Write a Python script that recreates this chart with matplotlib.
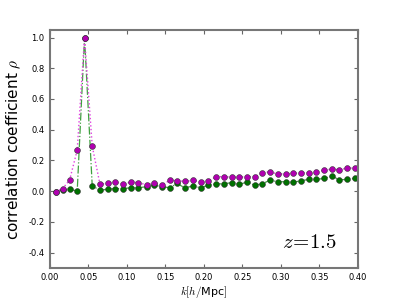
import numpy as np
import matplotlib
matplotlib.use("Agg")
import matplotlib.pyplot as plt

plt.rcParams['mathtext.fontset'] = 'cm'

# wavenumbers k [h/Mpc]
k = [0.0074, 0.0165, 0.0256, 0.0355, 0.045, 0.055, 0.065, 0.075, 0.085, 0.095,
     0.105, 0.115, 0.1256, 0.1355, 0.1455, 0.156, 0.165, 0.175, 0.186, 0.196,
     0.2056, 0.2156, 0.226, 0.236, 0.246, 0.256, 0.266, 0.276, 0.286, 0.296,
     0.306, 0.316, 0.326, 0.336, 0.346, 0.356, 0.366, 0.376, 0.386, 0.396]

# correlation coefficient, two series
rho_m = [-0.004, 0.016, 0.072, 0.267, 1.0, 0.293, 0.046, 0.05, 0.061, 0.044,
         0.059, 0.055, 0.042, 0.055, 0.042, 0.07, 0.068, 0.063, 0.07, 0.061,
         0.063, 0.094, 0.094, 0.091, 0.091, 0.094, 0.094, 0.12, 0.126, 0.111,
         0.113, 0.115, 0.12, 0.12, 0.122, 0.137, 0.143, 0.139, 0.15, 0.15]
rho_g = [-0.003, 0.008, 0.013, 0.0, 1.0, 0.035, 0.005, 0.013, 0.016, 0.016,
         0.022, 0.022, 0.029, 0.039, 0.029, 0.022, 0.05, 0.022, 0.033, 0.022,
         0.039, 0.046, 0.048, 0.055, 0.044, 0.059, 0.039, 0.048, 0.072, 0.061,
         0.061, 0.057, 0.068, 0.076, 0.076, 0.083, 0.098, 0.074, 0.076, 0.083]

fig = plt.figure(figsize=(3.99, 2.99), dpi=100)
ax = fig.add_axes([0.125, 0.104, 0.772, 0.796])

ax.plot(k, rho_g, '-.', color='#3fa03f', lw=0.9)
ax.plot(k, rho_m, ':', color='#e040e0', lw=1.0)
ax.plot(k, rho_g, 'o', color='#007000', ms=4.2, mec='#333333', mew=0.4)
ax.plot(k, rho_m, 'o', color='#b000b0', ms=4.2, mec='#333333', mew=0.4)

ax.set_xlim(0, 0.4)
ax.set_ylim(-0.5, 1.05)
ax.set_xticks(np.arange(0, 0.41, 0.05))
ax.set_yticks(np.arange(-0.4, 1.01, 0.2))
ax.xaxis.set_major_formatter(matplotlib.ticker.FormatStrFormatter('%.2f'))
ax.yaxis.set_major_formatter(matplotlib.ticker.FormatStrFormatter('%.1f'))
ax.tick_params(direction='in', top=True, right=True, labelsize=6, length=3,
               color='#666666', pad=4)
for s in ax.spines.values():
    s.set_color('#777777')
    s.set_linewidth(1.5)

ax.set_xlabel(r'$k[h/$Mpc$]$', fontsize=8, labelpad=1)
ax.set_ylabel(r'correlation coefficient $\rho$', fontsize=11)
ax.text(0.337, -0.33, r'$z\!=\!1.5$', fontsize=15, ha='center', va='center')

fig.savefig('out.png', dpi=100)
